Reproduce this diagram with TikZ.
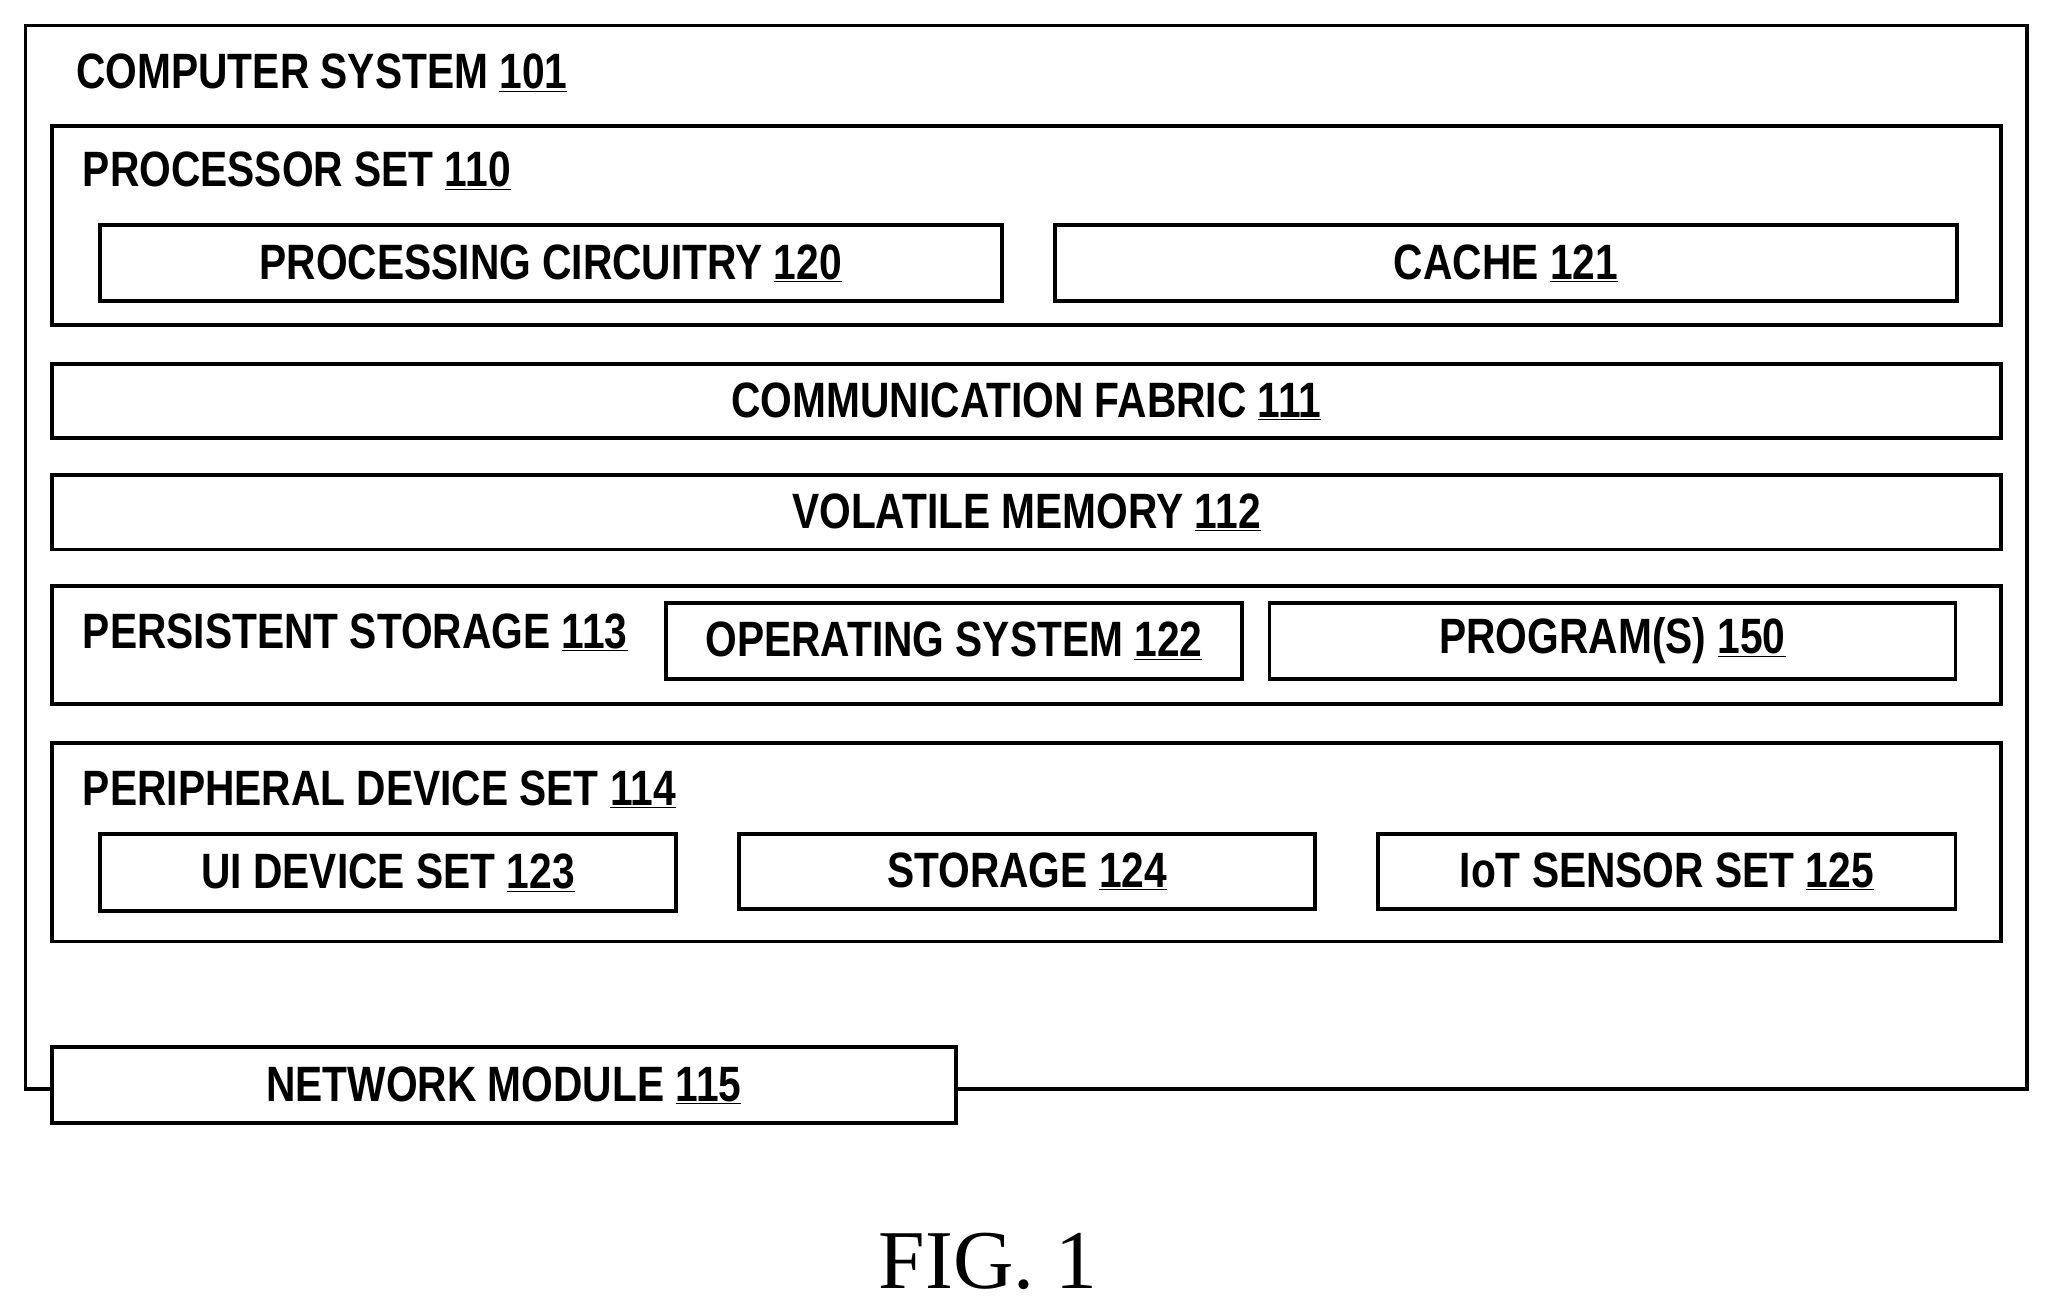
\documentclass[tikz,border=0pt]{standalone}
\usepackage{fontspec}
\setmainfont{Liberation Sans}[FakeStretch=0.82]
\newfontfamily\figfont{Liberation Serif}
\newcommand{\refnum}[1]{\underline{#1}}
\tikzset{every picture/.style={line width=3pt}}
\tikzset{box/.style={draw, fill=white, inner sep=0pt, anchor=north west},
	lbl/.style={inner sep=0pt, font=\fontsize{38}{40}\selectfont\bfseries}}
\begin{document}
\begin{tikzpicture}[x=1pt,y=1pt,yscale=-1]
	\useasboundingbox (0,0) rectangle (1565,1000);
	\node[box, minimum width=1532pt, minimum height=814pt] (sys) at (18,18) {};
	\node[lbl, anchor=west] (syslbl) at (57,56) {COMPUTER SYSTEM \refnum{101}};
	% processor set
	\node[box, minimum width=1492pt, minimum height=152pt] (proc) at (38,95) {};
	\node[lbl, anchor=west] (proclbl) at (62,131) {PROCESSOR SET \refnum{110}};
	\node[box, minimum width=690pt, minimum height=58pt] (circ) at (75,171) {};
	\node[lbl] at (circ) {PROCESSING CIRCUITRY \refnum{120}};
	\node[box, minimum width=690pt, minimum height=58pt] (cache) at (806,171) {};
	\node[lbl] at (cache) {CACHE \refnum{121}};
	% fabric and memory
	\node[box, minimum width=1492pt, minimum height=57pt] (fab) at (38,277) {};
	\node[lbl] at (fab) {COMMUNICATION FABRIC \refnum{111}};
	\node[box, minimum width=1492pt, minimum height=57pt] (vol) at (38,362) {};
	\node[lbl] at (vol) {VOLATILE MEMORY \refnum{112}};
	% persistent storage
	\node[box, minimum width=1492pt, minimum height=90pt] (pers) at (38,447) {};
	\node[lbl, anchor=west] (perslbl) at (62,484) {PERSISTENT STORAGE \refnum{113}};
	\node[box, minimum width=441pt, minimum height=58pt] (os) at (508,460) {};
	\node[lbl] at (os) {OPERATING SYSTEM \refnum{122}};
	\node[box, minimum width=525pt, minimum height=58pt] (prog) at (970,460) {};
	\node[lbl] at (prog) {PROGRAM(S) \refnum{150}};
	% peripheral device set
	\node[box, minimum width=1492pt, minimum height=152pt] (peri) at (38,567) {};
	\node[lbl, anchor=west] (perilbl) at (62,604) {PERIPHERAL DEVICE SET \refnum{114}};
	\node[box, minimum width=441pt, minimum height=59pt] (ui) at (75,637) {};
	\node[lbl] at (ui) {UI DEVICE SET \refnum{123}};
	\node[box, minimum width=441pt, minimum height=57pt] (stor) at (564,637) {};
	\node[lbl] at (stor) {STORAGE \refnum{124}};
	\node[box, minimum width=442pt, minimum height=57pt] (iot) at (1053,637) {};
	\node[lbl] at (iot) {IoT SENSOR SET \refnum{125}};
	% network module
	\node[box, minimum width=692pt, minimum height=58pt] (net) at (38,800) {};
	\node[lbl] at (net) {NETWORK MODULE \refnum{115}};
	\node[inner sep=0pt, font=\figfont\fontsize{64}{66}\selectfont] (fig) at (756,965) {FIG. 1};
\end{tikzpicture}
\end{document}
